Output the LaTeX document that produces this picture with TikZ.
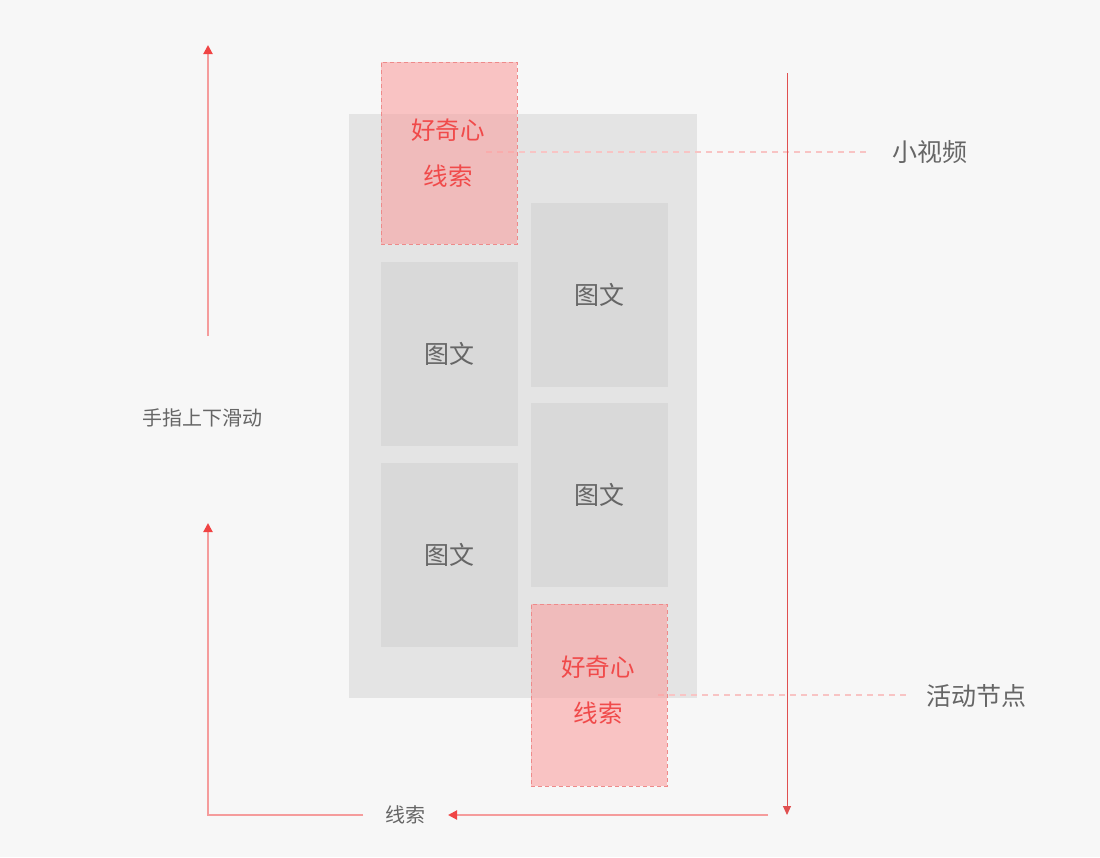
\documentclass[tikz,border=0pt]{standalone}
\usepackage{fontspec}
\setmainfont{Noto Sans CJK SC}
\usetikzlibrary{arrows.meta}
\definecolor{bgc}{HTML}{F7F7F7}
\definecolor{panelc}{HTML}{E4E4E4}
\definecolor{cardc}{HTML}{D9D9D9}
\definecolor{pinkfill}{HTML}{FB9A9A}
\definecolor{pinkedge}{HTML}{EE8A8A}
\definecolor{redtext}{HTML}{F04A4A}
\definecolor{graytext}{HTML}{666666}
\definecolor{guide}{HTML}{F8C4C4}
\definecolor{arrline}{HTML}{F59C9C}
\definecolor{arrhead}{HTML}{F04444}
\definecolor{vline}{HTML}{E05050}
\tikzset{
  card/.style={fill=cardc, draw=none, minimum width=137pt, minimum height=184pt, inner sep=0pt, anchor=north west},
  cardtext/.style={font=\fontsize{25}{27}\selectfont, text=graytext},
  pinkbox/.style={fill=pinkfill, fill opacity=0.55, draw=pinkedge, draw opacity=1, dash pattern=on 4pt off 3pt, line width=0.8pt, minimum width=136pt, minimum height=182pt, inner sep=0pt, anchor=north west},
  pinktext/.style={font=\fontsize{24.5}{26}\selectfont, text=redtext},
  label/.style={font=\fontsize{25}{27}\selectfont, text=graytext},
  smalllabel/.style={font=\fontsize{20}{22}\selectfont, text=graytext},
  guideline/.style={draw=guide, line width=1.5pt, dash pattern=on 6pt off 5pt},
  arr/.style={draw=arrline, line width=2pt, -{Triangle[length=9pt,width=9pt,color=arrhead]}},
}
\begin{document}
\begin{tikzpicture}[x=1pt,y=-1pt]
\useasboundingbox (0,0) rectangle (1100,857);
\fill[bgc] (0,0) rectangle (1100,857);
% panel
\node[fill=panelc, minimum width=348pt, minimum height=584pt, inner sep=0pt, anchor=north west] (panel) at (349,114) {};
% cards
\node[card] (c1) at (381,262) {};
\node[cardtext] at (c1.center) {图文};
\node[card] (c2) at (381,463) {};
\node[cardtext] at (c2.center) {图文};
\node[card] (c3) at (531,203) {};
\node[cardtext] at (c3.center) {图文};
\node[card] (c4) at (531,403) {};
\node[cardtext] at (c4.center) {图文};
% guide lines
\coordinate (g1s) at (486,152);
\coordinate (g1e) at (870,152);
\coordinate (g2s) at (658,695);
\coordinate (g2e) at (910,695);
\draw[guideline] (g1s) -- (g1e);
\draw[guideline] (g2s) -- (g2e);
% pink boxes
\node[pinkbox] (p1) at (381,62) {};
\node[pinktext] at (448,130) {好奇心};
\node[pinktext] at (448,176) {线索};
\node[pinkbox] (p2) at (531,604) {};
\node[pinktext] at (598,667) {好奇心};
\node[pinktext] at (598,713) {线索};
% right labels
\node[label] (l1) at (930,152) {小视频};
\node[label] (l2) at (976,696) {活动节点};
% vertical line
\coordinate (v1) at (787,73);
\coordinate (v2) at (787,815);
\draw[draw=vline, line width=1pt, -{Triangle[length=9pt,width=8pt,color=vline]}] (v1) -- (v2);
% left arrows
\node[smalllabel] (finger) at (202,418) {手指上下滑动};
\coordinate (a1s) at (208,336);
\coordinate (a1e) at (208,45);
\draw[arr] (a1s) -- (a1e);
\node[smalllabel] (xs) at (405,815) {线索};
\coordinate (b1) at (363,815);
\coordinate (b2) at (208,815);
\coordinate (b3) at (208,523);
\draw[arr] (b1) -- (b2) -- (b3);
\coordinate (c1s) at (768,815);
\coordinate (c1e) at (448,815);
\draw[arr] (c1s) -- (c1e);
\end{tikzpicture}
\end{document}
